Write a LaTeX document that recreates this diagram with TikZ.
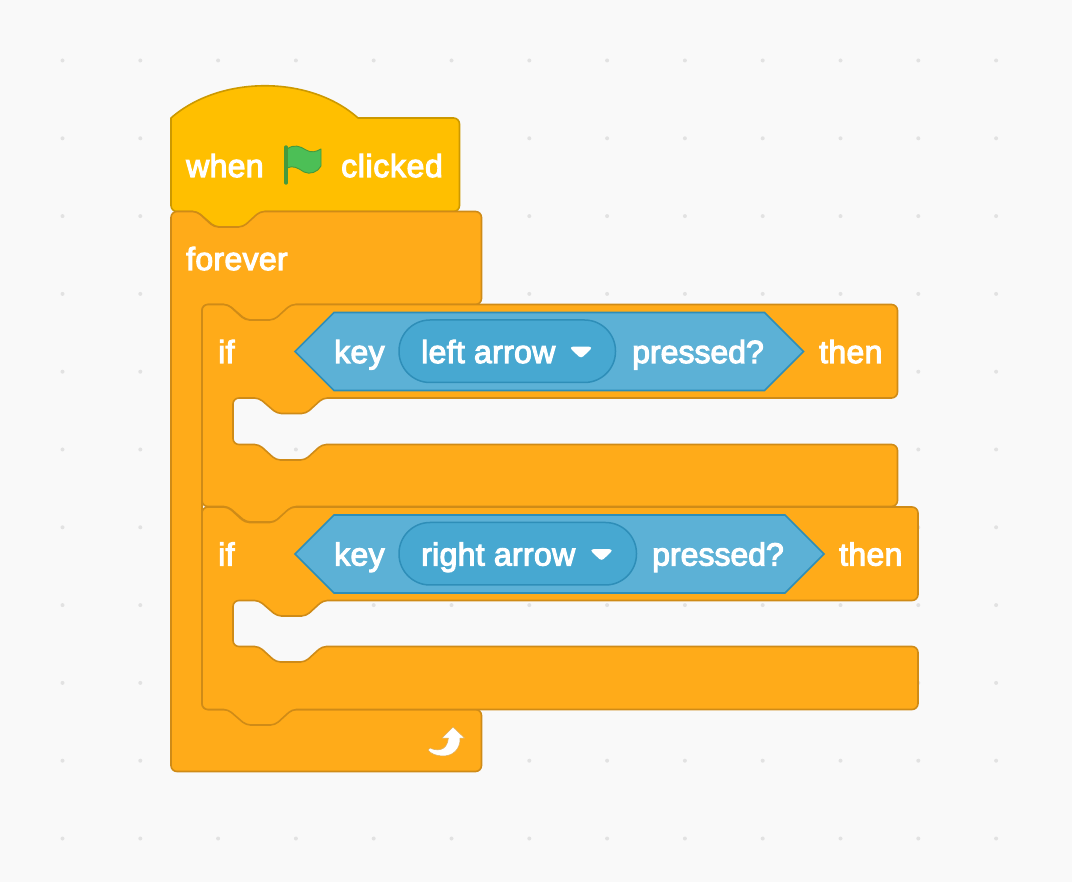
\documentclass[tikz,border=0pt]{standalone}
\usepackage{fontspec}
\newfontfamily\blockfont[LetterSpace=1]{Liberation Sans}
\newfontfamily\tightfont{Liberation Sans}
\newfontfamily\widefont[LetterSpace=2]{Liberation Sans}
\newcommand{\heavy}[1]{\special{pdf:code q 2 Tr 1.1 w 1 1 1 RG}#1\special{pdf:code Q}}
\definecolor{bgc}{HTML}{F9F9F9}
\definecolor{dotc}{HTML}{E2E2E2}
\definecolor{hatf}{HTML}{FFBF00}
\definecolor{hatl}{HTML}{CC9900}
\definecolor{ctlf}{HTML}{FFAB19}
\definecolor{ctll}{HTML}{CF8B17}
\definecolor{senf}{HTML}{5CB1D6}
\definecolor{senl}{HTML}{2E8EB8}
\definecolor{menuf}{HTML}{47A8D1}
\definecolor{flagf}{HTML}{4CBF56}
\definecolor{flagl}{HTML}{45993D}
\tikzset{
  hatblock/.style={fill=hatf,draw=hatl,line width=1.6pt,rounded corners=6pt,line join=round},
  ctlblock/.style={fill=ctlf,draw=ctll,line width=1.6pt,rounded corners=6pt,line join=round},
  sensor/.style={fill=senf,draw=senl,line width=1.7pt,line join=miter},
  menupill/.style={fill=menuf,draw=senl,line width=1.5pt,rounded corners=31pt},
  caret/.style={fill=white,draw=white,line width=1.5pt,rounded corners=2.5pt},
  lbl/.style={text=white,anchor=base west,inner sep=0pt,font=\blockfont\fontsize{32}{36}\selectfont},
  lbltight/.style={lbl,font=\tightfont\fontsize{32}{36}\selectfont},
  lblwide/.style={lbl,font=\widefont\fontsize{32}{36}\selectfont}
}
% notch running rightwards / leftwards, #1 = x of the shape's left edge, #2 = y of its edge
\def\notchR#1#2{[rounded corners=4.5pt] -- (#1+26,#2) -- (#1+43,#2+15.5) -- (#1+72,#2+15.5) -- (#1+89,#2) [rounded corners=6pt]}
\def\notchL#1#2{[rounded corners=4.5pt] -- (#1+90,#2) -- (#1+73,#2+15.5) -- (#1+44,#2+15.5) -- (#1+26,#2) [rounded corners=6pt]}
\begin{document}
\begin{tikzpicture}[x=1pt,y=-1pt]
\useasboundingbox (0,0) rectangle (1072,882);
\fill[bgc] (0,0) rectangle (1072,882);
\foreach \i in {0,...,12}{\foreach \j in {0,...,10}{
  \fill[dotc] ({62.5+77.8*\i},{60.5+77.8*\j}) circle (2);
}}
% hat
\draw[hatblock,rounded corners=0pt] (358,118) [rounded corners=6pt] -- (459.5,118) -- (459.5,211.5) \notchL{171}{211.5} -- (171,211.5) [sharp corners] -- (171,118)
  .. controls (220,75) and (310,75) .. (358,118) -- cycle;
% forever
\draw[ctlblock] (171,211.5) \notchR{171}{211.5} -- (481.5,211.5) -- (481.5,304.5)
  \notchL{202}{304.5} -- (202,304.5) -- (202,709.5) -- (481.5,709.5) -- (481.5,771.5) -- (171,771.5) -- cycle;
% if 1
\draw[ctlblock] (202,304.5) \notchR{202}{304.5} -- (897.5,304.5) -- (897.5,398)
  \notchL{233}{398} -- (233,398) -- (233,444.5) \notchR{233}{444.5} -- (897.5,444.5) -- (897.5,506.5)
  \notchL{202}{506.5} -- (202,506.5) -- cycle;
% if 2
\draw[ctlblock] (202,507) \notchR{202}{507} -- (918,507) -- (918,600.5)
  \notchL{233}{600.5} -- (233,600.5) -- (233,646.5) \notchR{233}{646.5} -- (918,646.5) -- (918,709.5)
  \notchL{202}{709.5} -- (202,709.5) -- cycle;
% sensors
\draw[sensor] (295,351.5) -- (334,312.5) -- (764.5,312.5) -- (803.5,351.5) -- (764.5,390.5) -- (334,390.5) -- cycle;
\draw[menupill] (399,320) rectangle (615.5,382.5);
\draw[caret] (570.5,347.5) -- (591.5,347.5) -- (581,357.5) -- cycle;
\draw[sensor] (295,554) -- (334,515) -- (785,515) -- (824,554) -- (785,593) -- (334,593) -- cycle;
\draw[menupill] (399,522.5) rectangle (636.5,585);
\draw[caret] (591,550) -- (612,550) -- (601.5,560) -- cycle;
% flag
\draw[fill=flagf,draw=flagl,line width=.9pt,line join=round] (287,149) .. controls (294,144) and (300,146) .. (306,150)
  .. controls (311,153) and (316,152) .. (321,149) -- (321,166) .. controls (318,172) and (310,175) .. (304,172)
  .. controls (298,168) and (293,165) .. (287,168) -- cycle;
\draw[flagl,line width=3.4pt,line cap=round] (286,147) -- (286,183);
% loop arrow
\draw[fill=white,draw=ctll!70!white,line width=.5pt,line join=round] (453,727) -- (464.5,738) -- (460,738)
  .. controls (460.5,750) and (452,756) .. (443,756) .. controls (437,756) and (431,754) .. (428,750)
  -- (430,748) .. controls (436,751) and (447,752) .. (448.5,738) -- (442,738) -- cycle;
% text
\node[lbl] (twhen) at (186,177) {\heavy{when}};
\node[lblwide] (tclicked) at (341,177) {\heavy{clicked}};
\node[lbl] (tforever) at (186,270) {\heavy{forever}};
\node[lbl] (tif1) at (218,363) {\heavy{if}};
\node[lbl] (tkey1) at (334,363) {\heavy{key}};
\node[lbl] (tleft) at (421,363) {\heavy{left arrow}};
\node[lbltight] (tpress1) at (632,363) {\heavy{pressed?}};
\node[lbl] (tthen1) at (819,363) {\heavy{then}};
\node[lbl] (tif2) at (218,565.5) {\heavy{if}};
\node[lbl] (tkey2) at (334,565.5) {\heavy{key}};
\node[lbl] (tright) at (421,565.5) {\heavy{right arrow}};
\node[lbltight] (tpress2) at (652,565.5) {\heavy{pressed?}};
\node[lbl] (tthen2) at (839,565.5) {\heavy{then}};
\end{tikzpicture}
\end{document}
